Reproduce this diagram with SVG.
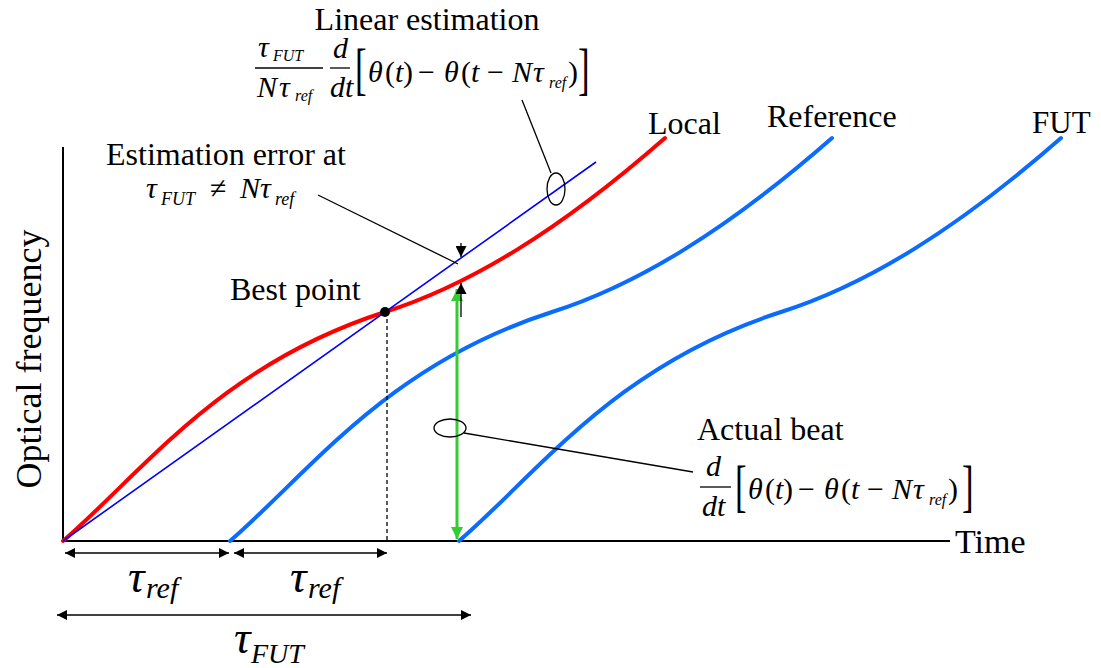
<svg xmlns="http://www.w3.org/2000/svg" width="1101" height="668" viewBox="0 0 1101 668">
<style>
.t{font-family:"Liberation Serif","Times New Roman",Tinos,"Nimbus Roman","DejaVu Serif",serif;fill:#000}
.i{font-style:italic}
.ax{stroke:#000;stroke-width:2;fill:none}
.thin{stroke:#000;stroke-width:1.3;fill:none}
.curve{fill:none;stroke-width:4;stroke-linecap:round}
</style>
<defs>
<marker id="ah" viewBox="0 0 10 10" refX="10" refY="5" markerWidth="12" markerHeight="10" markerUnits="userSpaceOnUse" orient="auto-start-reverse"><path d="M0,0 L10,5 L0,10 z" fill="#000"/></marker>
<marker id="ahb" viewBox="0 0 10 10" refX="10" refY="5" markerWidth="14" markerHeight="11" markerUnits="userSpaceOnUse" orient="auto-start-reverse"><path d="M0,0 L10,5 L0,10 z" fill="#000"/></marker>
<marker id="ahg" viewBox="0 0 10 10" refX="10" refY="5" markerWidth="14" markerHeight="12" markerUnits="userSpaceOnUse" orient="auto-start-reverse"><path d="M0,0 L10,5 L0,10 z" fill="#33cc33"/></marker>
<path id="shape" d="M63,541 C145,470 220,365 385,312 C470,285 560,230 665,138"/>
</defs>

<g id="axes">
<line class="ax" x1="63" y1="147" x2="63" y2="541"/>
<line class="ax" x1="63" y1="541" x2="950" y2="541"/>
</g>

<g id="curves">
<use href="#shape" class="curve" stroke="#0a6cff" transform="translate(167,0)"/>
<use href="#shape" class="curve" stroke="#0a6cff" transform="translate(396,0)"/>
<use href="#shape" class="curve" stroke="#ff0000"/>
<line id="linear" x1="63" y1="541" x2="596" y2="162" stroke="#0000ff" stroke-width="1.6"/>
</g>

<g id="best-point">
<line x1="387" y1="312" x2="387" y2="541" stroke="#000" stroke-width="1.3" stroke-dasharray="4,3"/>
<circle cx="385" cy="312" r="5" fill="#000"/>
<text class="t" x="230" y="300" font-size="32">Best point</text>
</g>

<g id="connectors">
<line x1="457" y1="289" x2="457" y2="539" stroke="#33cc33" stroke-width="3" marker-start="url(#ahg)" marker-end="url(#ahg)"/>
<line class="thin" x1="461" y1="243" x2="461" y2="257" marker-end="url(#ahb)"/>
<line class="thin" x1="461" y1="317" x2="461" y2="283" marker-end="url(#ahb)"/>
<line class="thin" x1="318" y1="195" x2="458" y2="264"/>
<line class="thin" x1="522" y1="100" x2="551" y2="173"/>
<ellipse class="thin" cx="556" cy="189" rx="9" ry="16"/>
<ellipse class="thin" cx="450" cy="428" rx="16" ry="9"/>
<line class="thin" x1="464" y1="433" x2="693" y2="472"/>
<line class="thin" x1="65" y1="553" x2="229" y2="553" marker-start="url(#ah)" marker-end="url(#ah)"/>
<line class="thin" x1="234" y1="553" x2="387" y2="553" marker-start="url(#ah)" marker-end="url(#ah)"/>
<line class="thin" x1="57" y1="615" x2="471" y2="615" marker-start="url(#ah)" marker-end="url(#ah)"/>
</g>

<g id="labels">
<text class="t" x="648" y="134" font-size="32">Local</text>
<text class="t" x="767" y="127" font-size="32">Reference</text>
<text class="t" x="1032" y="133" font-size="31">FUT</text>
<text class="t" x="955" y="553" font-size="34">Time</text>
<text class="t" transform="translate(41,359) rotate(-90)" text-anchor="middle" font-size="36">Optical frequency</text>
</g>

<g id="linear-estimation">
<text class="t" x="427" y="30" font-size="32" text-anchor="middle">Linear estimation</text>
<text class="t i" font-size="30"><tspan x="258" y="57">τ</tspan><tspan font-size="16" x="273" y="61">FUT</tspan></text>
<line x1="255" y1="68" x2="323" y2="68" stroke="#000" stroke-width="1.3"/>
<text class="t i" font-size="30"><tspan x="257" y="97">N</tspan><tspan x="279" y="97">τ</tspan><tspan font-size="16" x="295" y="101">ref</tspan></text>
<text class="t i" x="333" y="58" font-size="30">d</text>
<line x1="330" y1="68" x2="350" y2="68" stroke="#000" stroke-width="1.3"/>
<text class="t i" x="330" y="97" font-size="30">dt</text>
<g id="bracket-expr-1">
<text class="t" transform="translate(355,88) scale(0.6,1)" font-size="58">[</text>
<text class="t" y="82" font-size="30"><tspan class="i" x="368">θ</tspan><tspan x="385">(</tspan><tspan class="i" x="395">t</tspan><tspan x="403">)</tspan><tspan x="418">−</tspan><tspan class="i" x="444">θ</tspan><tspan x="461">(</tspan><tspan class="i" x="471">t</tspan><tspan x="487">−</tspan><tspan class="i" x="512">N</tspan><tspan class="i" x="533">τ</tspan><tspan class="i" font-size="16" x="549" y="88">ref</tspan><tspan x="568" y="82">)</tspan></text>
<text class="t" transform="translate(578,88) scale(0.6,1)" font-size="58">]</text>
</g>
</g>

<g id="estimation-error">
<text class="t" x="106" y="165" font-size="32">Estimation error at</text>
<text class="t" font-size="30"><tspan class="i" x="146" y="198">τ</tspan><tspan class="i" font-size="18" x="161" y="205">FUT</tspan><tspan x="210" y="198">≠</tspan><tspan class="i" x="240" y="198">N</tspan><tspan class="i" x="260" y="198">τ</tspan><tspan class="i" font-size="18" x="275" y="205">ref</tspan></text>
</g>

<g id="actual-beat">
<text class="t" x="697" y="440" font-size="32">Actual beat</text>
<text class="t i" x="706" y="476" font-size="30">d</text>
<line x1="700" y1="487" x2="731" y2="487" stroke="#000" stroke-width="1.3"/>
<text class="t i" x="702" y="516" font-size="30">dt</text>
<g id="bracket-expr-2" transform="translate(380,417)">
<text class="t" transform="translate(355,88) scale(0.6,1)" font-size="58">[</text>
<text class="t" y="82" font-size="30"><tspan class="i" x="368">θ</tspan><tspan x="385">(</tspan><tspan class="i" x="395">t</tspan><tspan x="403">)</tspan><tspan x="418">−</tspan><tspan class="i" x="444">θ</tspan><tspan x="461">(</tspan><tspan class="i" x="471">t</tspan><tspan x="487">−</tspan><tspan class="i" x="512">N</tspan><tspan class="i" x="533">τ</tspan><tspan class="i" font-size="16" x="549" y="88">ref</tspan><tspan x="568" y="82">)</tspan></text>
<text class="t" transform="translate(582,88) scale(0.6,1)" font-size="58">]</text>
</g>
</g>

<g id="tau-labels">
<text class="t i" font-size="46"><tspan x="128" y="592">τ</tspan><tspan font-size="30" x="146" y="598">ref</tspan></text>
<text class="t i" font-size="46"><tspan x="290" y="592">τ</tspan><tspan font-size="30" x="308" y="598">ref</tspan></text>
<text class="t i" font-size="46"><tspan x="234" y="653">τ</tspan><tspan font-size="28" x="251" y="663">FUT</tspan></text>
</g>
</svg>
